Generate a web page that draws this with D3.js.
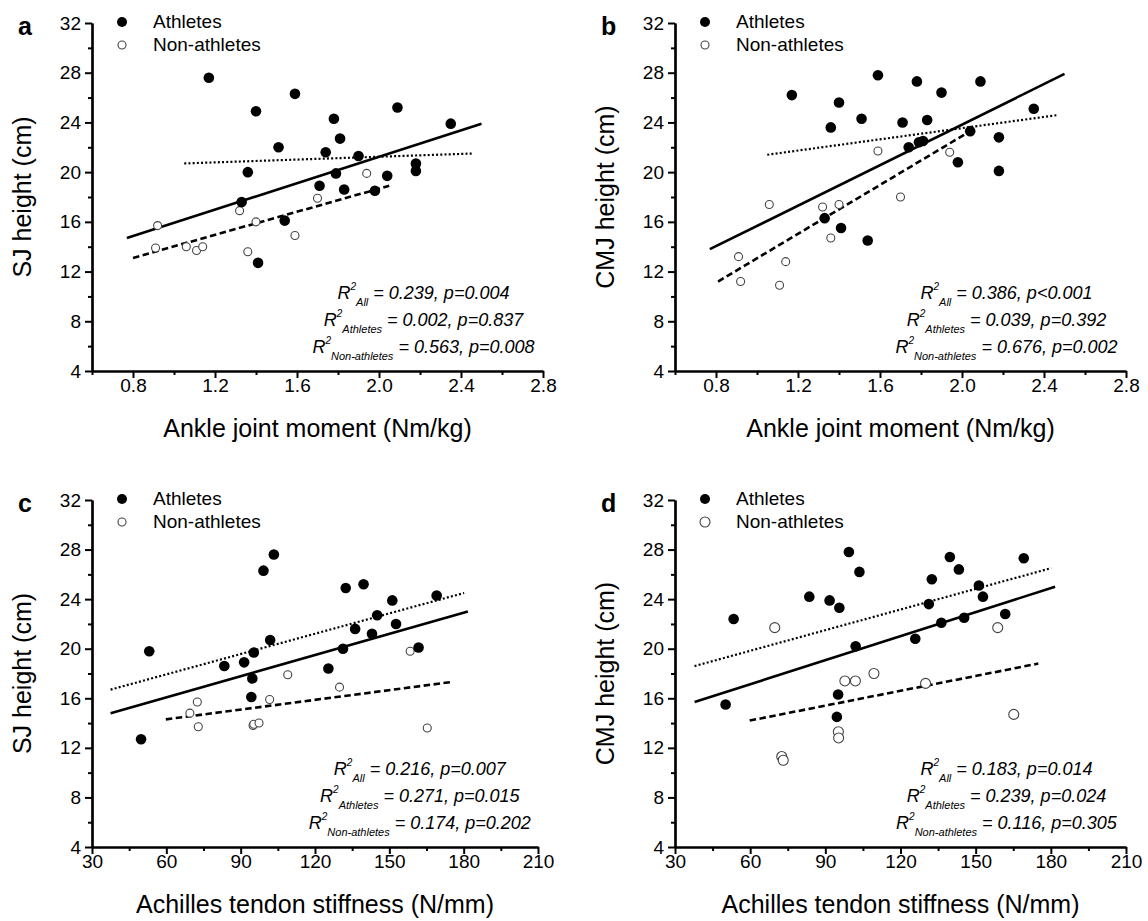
<!DOCTYPE html>
<html>
<head>
<meta charset="utf-8">
<script src="https://cdn.jsdelivr.net/npm/d3@7"></script>
<style>
  body { margin: 0; background: #fff; }
  svg text { font-family: "Liberation Sans", Arial, sans-serif; fill: #000; }
</style>
</head>
<body>
<svg id="chart" width="1148" height="921"></svg>
<script>
// ---- data ----
// panel a: ankle joint moment (Nm/kg) vs SJ height (cm)
const a_ath_x = [1.17, 1.59, 1.40, 2.09, 1.78, 2.35, 1.51, 1.81, 1.74, 1.90, 1.36, 1.79, 2.04, 2.18, 2.18, 1.71, 1.83, 1.98, 1.33, 1.54, 1.41];
const a_ath_y = [27.6, 26.3, 24.9, 25.2, 24.3, 23.9, 22.0, 22.7, 21.6, 21.3, 20.0, 19.9, 19.7, 20.7, 20.1, 18.9, 18.6, 18.5, 17.6, 16.1, 12.7];
const a_non_x = [0.92, 0.91, 1.06, 1.11, 1.14, 1.32, 1.36, 1.40, 1.59, 1.70, 1.94];
const a_non_y = [15.7, 13.9, 14.0, 13.7, 14.0, 16.9, 13.6, 16.0, 14.9, 17.9, 19.9];
// fit lines: [x0, y0, x1, y1]
const a_fit_all = [0.77, 14.7, 2.50, 23.9];
const a_fit_ath = [1.05, 20.7, 2.46, 21.5];
const a_fit_non = [0.80, 13.1, 2.05, 18.9];
const a_stats = [["All", "0.239", "p=0.004"], ["Athletes", "0.002", "p=0.837"], ["Non-athletes", "0.563", "p=0.008"]];

// panel b: ankle joint moment vs CMJ height
const b_ath_x = [1.17, 1.59, 1.78, 2.09, 1.90, 1.40, 2.35, 1.51, 1.36, 1.71, 1.83, 1.74, 1.79, 1.81, 2.04, 2.18, 1.98, 2.18, 1.33, 1.41, 1.54];
const b_ath_y = [26.2, 27.8, 27.3, 27.3, 26.4, 25.6, 25.1, 24.3, 23.6, 24.0, 24.2, 22.0, 22.4, 22.5, 23.3, 22.8, 20.8, 20.1, 16.3, 15.5, 14.5];
const b_non_x = [0.91, 0.92, 1.06, 1.11, 1.14, 1.32, 1.36, 1.40, 1.59, 1.70, 1.94];
const b_non_y = [13.2, 11.2, 17.4, 10.9, 12.8, 17.2, 14.7, 17.4, 21.7, 18.0, 21.6];
const b_fit_all = [0.77, 13.8, 2.50, 27.9];
const b_fit_ath = [1.05, 21.4, 2.47, 24.6];
const b_fit_non = [0.81, 11.2, 2.01, 23.0];
const b_stats = [["All", "0.386", "p<0.001"], ["Athletes", "0.039", "p=0.392"], ["Non-athletes", "0.676", "p=0.002"]];

// panel c: Achilles tendon stiffness (N/mm) vs SJ height
const c_ath_x = [53.1, 49.8, 103.4, 99.2, 132.4, 139.6, 151.2, 169.1, 145.1, 152.7, 136.2, 143.0, 101.9, 131.3, 161.8, 95.3, 83.4, 91.4, 125.4, 94.7, 94.3];
const c_ath_y = [19.8, 12.7, 27.6, 26.3, 24.9, 25.2, 23.9, 24.3, 22.7, 22.0, 21.6, 21.2, 20.7, 20.0, 20.1, 19.7, 18.6, 18.9, 18.4, 17.6, 16.1];
const c_non_x = [72.5, 69.5, 72.9, 95.0, 95.3, 97.4, 101.7, 109.0, 129.9, 158.4, 165.3];
const c_non_y = [15.7, 14.8, 13.7, 13.8, 13.9, 14.0, 15.9, 17.9, 16.9, 19.8, 13.6];
const c_fit_all = [37.5, 14.8, 181.7, 23.0];
const c_fit_ath = [37.5, 16.7, 180.2, 24.5];
const c_fit_non = [59.8, 14.3, 174.6, 17.3];
const c_stats = [["All", "0.216", "p=0.007"], ["Athletes", "0.271", "p=0.015"], ["Non-athletes", "0.174", "p=0.202"]];

// panel d: Achilles tendon stiffness vs CMJ height
const d_ath_x = [53.4, 50.2, 99.4, 103.6, 83.6, 91.7, 95.6, 102.1, 95.1, 94.6, 125.9, 132.5, 131.3, 139.7, 143.3, 136.3, 145.4, 151.3, 152.9, 161.8, 169.2];
const d_ath_y = [22.4, 15.5, 27.8, 26.2, 24.2, 23.9, 23.3, 20.2, 16.3, 14.5, 20.8, 25.6, 23.6, 27.4, 26.4, 22.1, 22.5, 25.1, 24.2, 22.8, 27.3];
const d_non_x = [69.8, 72.6, 73.2, 95.2, 95.3, 97.8, 102.0, 109.4, 130.0, 158.8, 165.2];
const d_non_y = [21.7, 11.3, 11.0, 13.3, 12.8, 17.4, 17.4, 18.0, 17.2, 21.7, 14.7];
const d_fit_all = [37.8, 15.7, 181.7, 25.0];
const d_fit_ath = [37.8, 18.6, 180.1, 26.5];
const d_fit_non = [59.8, 14.2, 175.0, 18.8];
const d_stats = [["All", "0.183", "p=0.014"], ["Athletes", "0.239", "p=0.024"], ["Non-athletes", "0.116", "p=0.305"]];

// axes
const moment_ticks = [0.8, 1.2, 1.6, 2.0, 2.4, 2.8];
const moment_minor = [0.6, 1.0, 1.4, 1.8, 2.2, 2.6];
const stiff_ticks = [30, 60, 90, 120, 150, 180, 210];
const stiff_minor = [45, 75, 105, 135, 165, 195];
const height_ticks = [4, 8, 12, 16, 20, 24, 28, 32];
const height_minor = [6, 10, 14, 18, 22, 26, 30];
const legend_labels = ["Athletes", "Non-athletes"];

// ---- layout ----
const panels = [
  { letter: 'a', box: { l: 92, r: 543, t: 23, b: 371 }, xd: [0.6, 2.8], xt: moment_ticks, xm: moment_minor, fmt: d3.format(".1f"),
    xlab: "Ankle joint moment (Nm/kg)", ylab: "SJ height (cm)", ax: a_ath_x, ay: a_ath_y, nx: a_non_x, ny: a_non_y,
    fits: [a_fit_all, a_fit_ath, a_fit_non], stats: a_stats, rOpen: 4 },
  { letter: 'b', box: { l: 675, r: 1126, t: 23, b: 371 }, xd: [0.6, 2.8], xt: moment_ticks, xm: moment_minor, fmt: d3.format(".1f"),
    xlab: "Ankle joint moment (Nm/kg)", ylab: "CMJ height (cm)", ax: b_ath_x, ay: b_ath_y, nx: b_non_x, ny: b_non_y,
    fits: [b_fit_all, b_fit_ath, b_fit_non], stats: b_stats, rOpen: 4 },
  { letter: 'c', box: { l: 92, r: 538, t: 500, b: 847 }, xd: [30, 210], xt: stiff_ticks, xm: stiff_minor, fmt: d3.format("d"),
    xlab: "Achilles tendon stiffness (N/mm)", ylab: "SJ height (cm)", ax: c_ath_x, ay: c_ath_y, nx: c_non_x, ny: c_non_y,
    fits: [c_fit_all, c_fit_ath, c_fit_non], stats: c_stats, rOpen: 4 },
  { letter: 'd', box: { l: 675, r: 1126, t: 500, b: 847 }, xd: [30, 210], xt: stiff_ticks, xm: stiff_minor, fmt: d3.format("d"),
    xlab: "Achilles tendon stiffness (N/mm)", ylab: "CMJ height (cm)", ax: d_ath_x, ay: d_ath_y, nx: d_non_x, ny: d_non_y,
    fits: [d_fit_all, d_fit_ath, d_fit_non], stats: d_stats, rOpen: 5 }
];

const fit_styles = [
  { w: 2.6, dash: null },      // all
  { w: 2.2, dash: "2,2.2" },   // athletes (dotted)
  { w: 2.6, dash: "6.5,3.5" }  // non-athletes (dashed)
];

const svg = d3.select('#chart');

let draw_panel = p => {
  const g = svg.append('g');
  const x = d3.scaleLinear().domain(p.xd).range([p.box.l, p.box.r]);
  const y = d3.scaleLinear().domain([4, 32]).range([p.box.b, p.box.t]);

  // minor ticks
  g.append('g')
    .attr('transform', `translate(0,${p.box.b})`)
    .call(d3.axisBottom(x).tickValues(p.xm).tickSize(4).tickSizeOuter(0).tickFormat(''));
  g.append('g')
    .attr('transform', `translate(${p.box.l},0)`)
    .call(d3.axisLeft(y).tickValues(height_minor).tickSize(4).tickSizeOuter(0).tickFormat(''));

  // major ticks
  g.append('g')
    .attr('class', 'x-axis')
    .attr('transform', `translate(0,${p.box.b})`)
    .call(d3.axisBottom(x).tickValues(p.xt).tickSize(7).tickPadding(1).tickSizeOuter(0).tickFormat(p.fmt));
  g.append('g')
    .attr('class', 'y-axis')
    .attr('transform', `translate(${p.box.l},0)`)
    .call(d3.axisLeft(y).tickValues(height_ticks).tickSize(7).tickPadding(4).tickSizeOuter(0));

  g.selectAll('.domain').attr('stroke', '#000').attr('stroke-width', 2.2);
  g.selectAll('.tick line').attr('stroke', '#000').attr('stroke-width', 2);
  g.selectAll('.tick text').attr('font-size', 19).attr('fill', '#000');

  // axis titles
  g.append('text')
    .attr('x', (p.box.l + p.box.r) / 2)
    .attr('y', p.box.b + 66)
    .attr('text-anchor', 'middle')
    .attr('font-size', 25)
    .text(p.xlab);
  g.append('text')
    .attr('transform', `translate(${p.box.l - 61},${(p.box.t + p.box.b) / 2}) rotate(-90)`)
    .attr('text-anchor', 'middle')
    .attr('font-size', 25)
    .text(p.ylab);

  // panel letter
  g.append('text')
    .attr('x', p.box.l - 74)
    .attr('y', p.box.t + 12)
    .attr('font-size', 25)
    .attr('font-weight', 'bold')
    .text(p.letter);

  // fit lines
  g.selectAll('.fit')
    .data(p.fits)
    .join('line')
      .attr('class', 'fit')
      .attr('x1', d => x(d[0]))
      .attr('y1', d => y(d[1]))
      .attr('x2', d => x(d[2]))
      .attr('y2', d => y(d[3]))
      .attr('stroke', '#000')
      .attr('stroke-width', (d, i) => fit_styles[i].w)
      .attr('stroke-dasharray', (d, i) => fit_styles[i].dash);

  // points
  g.selectAll('.non')
    .data(p.nx.map((v, i) => [v, p.ny[i]]))
    .join('circle')
      .attr('class', 'non')
      .attr('cx', d => x(d[0]))
      .attr('cy', d => y(d[1]))
      .attr('r', p.rOpen)
      .attr('fill', '#fff')
      .attr('stroke', '#444')
      .attr('stroke-width', 1.1);
  g.selectAll('.ath')
    .data(p.ax.map((v, i) => [v, p.ay[i]]))
    .join('circle')
      .attr('class', 'ath')
      .attr('cx', d => x(d[0]))
      .attr('cy', d => y(d[1]))
      .attr('r', 5.3)
      .attr('fill', '#000');

  // legend
  const leg = g.append('g').attr('transform', `translate(${p.box.l + 30},${p.box.t - 1})`);
  leg.selectAll('circle')
    .data(legend_labels)
    .join('circle')
      .attr('cx', 0)
      .attr('cy', (d, i) => i * 23)
      .attr('r', (d, i) => i ? p.rOpen : 5)
      .attr('fill', (d, i) => i ? '#fff' : '#000')
      .attr('stroke', (d, i) => i ? '#444' : null)
      .attr('stroke-width', 1.1);
  leg.selectAll('text')
    .data(legend_labels)
    .join('text')
      .attr('x', 31)
      .attr('y', (d, i) => i * 23 + 6)
      .attr('font-size', 19)
      .text(d => d);

  // statistics
  const cx = p.box.l + 0.735 * (p.box.r - p.box.l);
  p.stats.forEach((s, i) => {
    const t = g.append('text')
      .attr('x', cx)
      .attr('y', p.box.b - 72 + i * 27)
      .attr('text-anchor', 'middle')
      .attr('font-size', 18)
      .attr('font-style', 'italic');
    t.append('tspan').text('R');
    t.append('tspan').attr('font-size', 10).attr('dy', -9).text('2');
    t.append('tspan').attr('font-size', 11).attr('dy', 16).text(s[0]);
    t.append('tspan').attr('dy', -7).text(` = ${s[1]}, ${s[2]}`);
  });
};

panels.forEach(draw_panel);
</script>
</body>
</html>
